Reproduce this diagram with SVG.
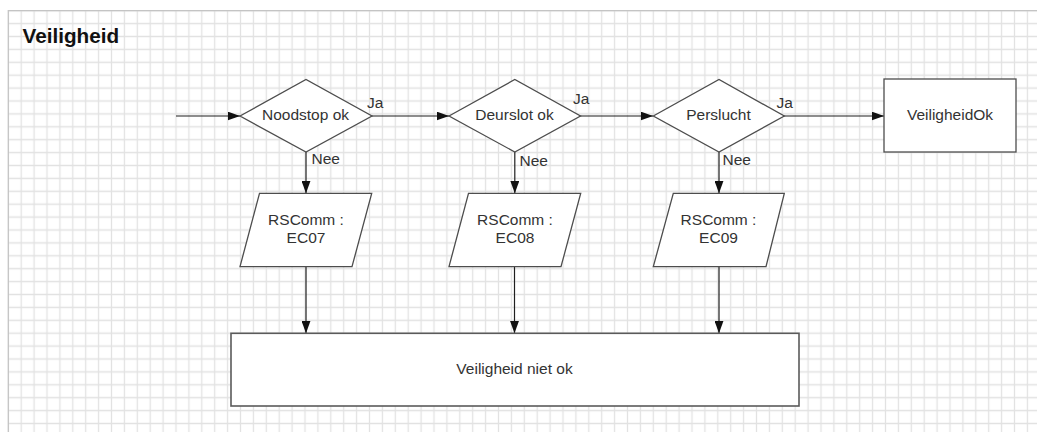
<svg xmlns="http://www.w3.org/2000/svg" width="1037" height="432" viewBox="0 0 1037 432">
  <style>
    .shape { fill: #ffffff; stroke: #4d4d4d; stroke-width: 1.3; }
    .conn { fill: none; stroke: #1e1e1e; stroke-width: 1.2; }
    .lbl { font-family: "Liberation Sans", Arial, sans-serif; font-size: 15.5px; fill: #333333; }
    .mid { text-anchor: middle; }
    .title { font-family: "Liberation Sans", Arial, sans-serif; font-size: 20.7px; font-weight: bold; fill: #111111; }
  </style>
  <defs>
    <pattern id="grid" x="1.85" y="4.25" width="12.9" height="12.9" patternUnits="userSpaceOnUse">
      <path d="M6.45 0V12.9M0 6.45H12.9" fill="none" stroke="#e2e2e2" stroke-width="1.3"/>
    </pattern>
    <marker id="arrow" markerUnits="userSpaceOnUse" markerWidth="12.5" markerHeight="9" refX="12.5" refY="4.5" orient="auto">
      <path d="M0,0 L12.5,4.5 L0,9 Z" fill="#111111"/>
    </marker>
  </defs>
  <rect x="0" y="0" width="1037" height="432" fill="#ffffff"/>
  <rect x="8.3" y="10.7" width="1040" height="430" fill="url(#grid)"/>
  <path d="M8.3 432V10.7H1037" fill="none" stroke="#c4c4c4" stroke-width="1.3"/>
  <text class="title" x="22.5" y="42.7">Veiligheid</text>

  <g id="connectors">
    <line class="conn" x1="176" y1="116" x2="240" y2="116" marker-end="url(#arrow)"/>
    <line class="conn" x1="372" y1="116" x2="449" y2="116" marker-end="url(#arrow)"/>
    <line class="conn" x1="580" y1="116" x2="653" y2="116" marker-end="url(#arrow)"/>
    <line class="conn" x1="784" y1="116" x2="884" y2="116" marker-end="url(#arrow)"/>
    <line class="conn" x1="306" y1="152" x2="306" y2="193.3" marker-end="url(#arrow)"/>
    <line class="conn" x1="514.8" y1="152" x2="514.8" y2="193.3" marker-end="url(#arrow)"/>
    <line class="conn" x1="719" y1="152" x2="719" y2="193.3" marker-end="url(#arrow)"/>
    <line class="conn" x1="306" y1="267" x2="306" y2="333.3" marker-end="url(#arrow)"/>
    <line class="conn" x1="514.5" y1="267" x2="514.5" y2="333.3" marker-end="url(#arrow)"/>
    <line class="conn" x1="719" y1="267" x2="719" y2="333.3" marker-end="url(#arrow)"/>
    <text class="lbl" x="367" y="108">Ja</text>
    <text class="lbl" x="573" y="104">Ja</text>
    <text class="lbl" x="776.5" y="107.5">Ja</text>
    <text class="lbl" x="311.5" y="163.5">Nee</text>
    <text class="lbl" x="519.5" y="166">Nee</text>
    <text class="lbl" x="722.5" y="165">Nee</text>
  </g>

  <g id="noodstop">
    <polygon class="shape" points="240,116 306,79.5 372,116 306,152"/>
    <text class="lbl mid" x="305.5" y="119.5">Noodstop ok</text>
  </g>
  <g id="deurslot">
    <polygon class="shape" points="449,116 514.8,79.5 580.5,116 514.8,152"/>
    <text class="lbl mid" x="514.5" y="119.5">Deurslot ok</text>
  </g>
  <g id="perslucht">
    <polygon class="shape" points="653.3,116 719,79.5 784.3,116 719,152"/>
    <text class="lbl mid" x="718.5" y="119.5">Perslucht</text>
  </g>
  <g id="veiligheidok">
    <rect class="shape" x="884" y="79" width="132" height="73"/>
    <text class="lbl mid" x="950" y="119.5">VeiligheidOk</text>
  </g>
  <g id="ec07">
    <polygon class="shape" points="259.5,193.3 371.7,193.3 352,266.7 240,266.7"/>
    <text class="lbl mid" x="306" y="225">RSComm :</text>
    <text class="lbl mid" x="306" y="243.3">EC07</text>
  </g>
  <g id="ec08">
    <polygon class="shape" points="468.5,193.3 580.7,193.3 561,266.7 449,266.7"/>
    <text class="lbl mid" x="515" y="225">RSComm :</text>
    <text class="lbl mid" x="515" y="243.3">EC08</text>
  </g>
  <g id="ec09">
    <polygon class="shape" points="673.3,193.3 784.3,193.3 766,266.7 653.3,266.7"/>
    <text class="lbl mid" x="718.5" y="225">RSComm :</text>
    <text class="lbl mid" x="718.5" y="243.3">EC09</text>
  </g>
  <g id="nietok">
    <rect class="shape" x="231" y="333.3" width="568" height="72.7" style="stroke:#5a5a5a;stroke-width:1.6"/>
    <text class="lbl mid" x="514.5" y="373.5">Veiligheid niet ok</text>
  </g>
</svg>
